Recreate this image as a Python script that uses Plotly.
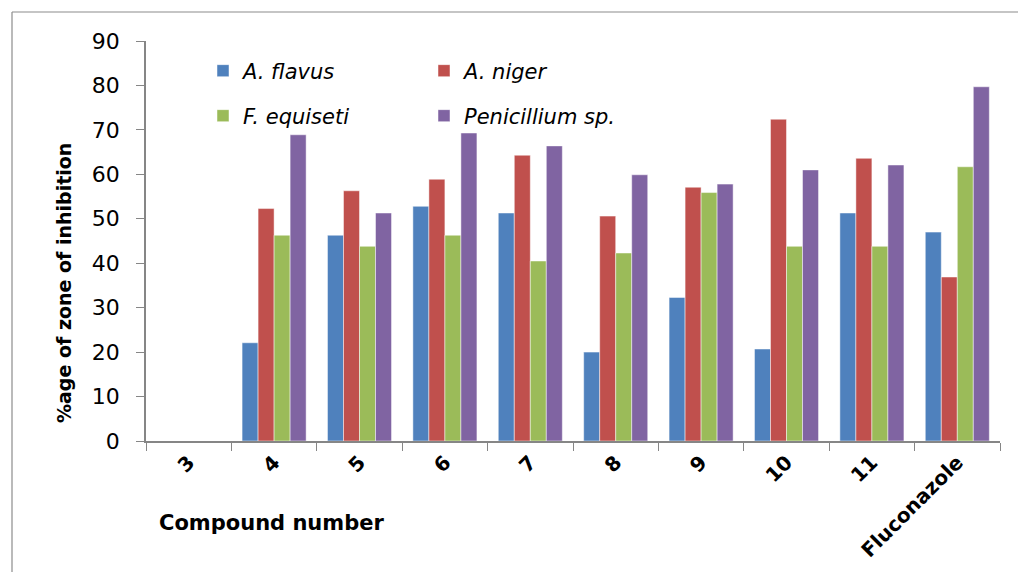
import plotly.graph_objects as go

categories = ["3", "4", "5", "6", "7", "8", "9", "10", "11", "Fluconazole"]
a_flavus = [0, 22.1, 46.3, 52.8, 51.3, 20.0, 32.3, 20.7, 51.3, 47.0]
a_niger = [0, 52.3, 56.3, 58.9, 64.3, 50.6, 57.1, 72.4, 63.6, 36.9]
f_equiseti = [0, 46.3, 43.8, 46.3, 40.5, 42.3, 55.9, 43.8, 43.8, 61.7]
penicillium = [0, 68.9, 51.3, 69.3, 66.4, 59.9, 57.8, 61.0, 62.1, 79.7]
y_ticks = [0, 10, 20, 30, 40, 50, 60, 70, 80, 90]

series = [
    ("A. flavus", a_flavus, "#4F81BD", "legend"),
    ("A. niger", a_niger, "#C0504D", "legend"),
    ("F. equiseti", f_equiseti, "#9BBB59", "legend2"),
    ("Penicillium sp.", penicillium, "#8064A2", "legend2"),
]

fig = go.Figure()
for name, vals, color, leg in series:
    fig.add_trace(go.Bar(
        x=categories, y=vals, name=name, legend=leg,
        marker=dict(color=color, line=dict(color="rgba(255,255,255,0.6)", width=0.8)),
    ))

FONT = "DejaVu Sans"
OFF = 8  # page body margin
W, H = 1010, 564
# target page positions of plot area: left 146, right 1000, top 41, bottom 441
L, T = 146 - OFF, 41 - OFF
R = W - (1000 - OFF)
B = H - (441 - OFF)
pw, ph = W - L - R, H - T - B

def px(x):
    return (x - OFF - L) / pw

def py(y):
    return (H - B - (y - OFF)) / ph

legend_common = dict(
    orientation="h", xanchor="left", yanchor="middle",
    font=dict(family=FONT, size=21, color="black", style="italic"),
    entrywidth=176, entrywidthmode="pixels",
    bgcolor="rgba(0,0,0,0)", itemwidth=30,
)

border = dict(color="#8c8c8c", width=1.2)

fig.update_layout(
    width=W, height=H,
    margin=dict(l=L, r=R, t=T, b=B, autoexpand=False),
    paper_bgcolor="white", plot_bgcolor="white",
    barmode="group", bargap=0.25, bargroupgap=0,
    font=dict(family=FONT, color="black"),
    legend=dict(x=px(203), y=py(71), **legend_common),
    legend2=dict(x=px(203), y=py(116), **legend_common),
    xaxis=dict(
        type="category", tickson="boundaries", ticks="outside", ticklen=8,
        tickcolor="#868686", showline=True, linecolor="#868686", linewidth=1.5,
        tickangle=-45, tickfont=dict(family=FONT, size=20, color="black", weight="bold"),
        showgrid=False, automargin=False,
    ),
    yaxis=dict(
        range=[0, 90], tickvals=y_ticks, ticks="outside", ticklen=8,
        tickcolor="#868686", showline=True, linecolor="#868686", linewidth=1.5,
        tickfont=dict(family=FONT, size=22, color="black"), ticklabelstandoff=12,
        showgrid=False, zeroline=False, automargin=False,
    ),
    annotations=[
        dict(text="Compound number", x=px(157), y=py(523), xref="paper", yref="paper",
             xanchor="left", yanchor="middle", showarrow=False,
             font=dict(family=FONT, size=21, color="black", weight="bold")),
        dict(text="%age of zone of inhibition", x=px(64), y=py(283), xref="paper", yref="paper",
             xanchor="center", yanchor="middle", textangle=-90, showarrow=False,
             font=dict(family=FONT, size=19, color="black", weight="bold")),
    ],
    shapes=[
        dict(type="line", xref="paper", yref="paper",
             x0=px(12), x1=px(1040), y0=py(12), y1=py(12), line=border, layer="below"),
        dict(type="line", xref="paper", yref="paper",
             x0=px(12), x1=px(12), y0=py(12), y1=py(600), line=border, layer="below"),
    ],
)

fig.write_html("out.html")
